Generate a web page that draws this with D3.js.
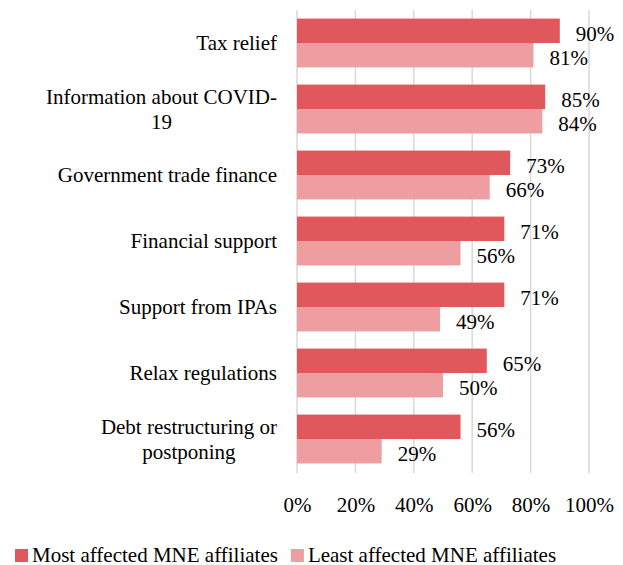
<!DOCTYPE html>
<html>
<head>
<meta charset="utf-8">
<script src="https://cdn.jsdelivr.net/npm/d3@7"></script>
<style>
  body { margin: 0; background: #fff; }
  svg text, svg tspan, svg g text { font-family: "Liberation Serif", "Times New Roman", Tinos, serif !important; }
</style>
</head>
<body>
<svg width="623" height="565" font-family="Liberation Serif" font-size="21"></svg>
<script>
var categories = ["Tax relief", "Information about COVID-19", "Government trade finance",
                  "Financial support", "Support from IPAs", "Relax regulations",
                  "Debt restructuring or postponing"];
var mostAffected = [90, 85, 73, 71, 71, 65, 56];
var leastAffected = [81, 84, 66, 56, 49, 50, 29];
var seriesNames = ["Most affected MNE affiliates", "Least affected MNE affiliates"];
var ticks = [0, 20, 40, 60, 80, 100];

var colors = ["#e0575c", "#ee9ea1"];

var svg = d3.select("svg"),
    width = +svg.attr("width"),
    height = +svg.attr("height");

// widths for centring wrapped labels and spacing the legend
var ctx = document.createElement("canvas").getContext("2d");
ctx.font = "21px 'Liberation Serif'";
function textWidth(s) {
    return ctx.measureText(s).width;
}

var x = d3.scaleLinear().domain([0, 100]).range([297, 589]);
var y = d3.scaleBand().domain(categories).range([10, 472]).paddingInner(0.26).paddingOuter(0.13);
var y1 = d3.scaleBand().domain([0, 1]).range([0, y.bandwidth()]);

// gridlines
svg.append("g")
    .selectAll("line")
    .data(ticks)
    .enter().append("line")
    .attr("x1", function (d) { return x(d); })
    .attr("x2", function (d) { return x(d); })
    .attr("y1", 10)
    .attr("y2", 473)
    .attr("stroke", "#d9d9d9")
    .attr("stroke-width", 1.5);

// axis labels
var axis = svg.append("g")
    .attr("transform", "translate(0,491)")
    .call(d3.axisBottom(x).tickValues(ticks).tickSize(0).tickPadding(0)
        .tickFormat(function (d) { return d + "%"; }));
axis.select(".domain").remove();
axis.attr("font-family", null).attr("font-size", null);
axis.selectAll("text")
    .attr("fill", "#000")
    .attr("dy", null)
    .attr("y", 21);

// bars
var rows = categories.map(function (c, i) {
    return { cat: c, vals: [mostAffected[i], leastAffected[i]] };
});

var groups = svg.append("g")
    .selectAll("g")
    .data(rows)
    .enter().append("g")
    .attr("transform", function (d) { return "translate(0," + y(d.cat) + ")"; });

groups.selectAll("rect")
    .data(function (d) { return d.vals; })
    .enter().append("rect")
    .attr("x", x(0))
    .attr("y", function (d, i) { return y1(i); })
    .attr("width", function (d) { return x(d) - x(0); })
    .attr("height", y1.bandwidth())
    .attr("fill", function (d, i) { return colors[i]; });

groups.selectAll("text.val")
    .data(function (d) { return d.vals; })
    .enter().append("text")
    .attr("class", "val")
    .attr("x", function (d) { return x(d) + 16; })
    .attr("y", function (d, i) { return y1(i) + y1.bandwidth() / 2 + 10; })
    .text(function (d) { return d + "%"; });

// category labels, wrapped at about 25 characters like the original
function wrap(s, maxChars) {
    var tokens = s.match(/[^\s-]+-?\s*/g);
    var lines = [], cur = "";
    tokens.forEach(function (t) {
        var test = cur + t;
        if (cur && test.trim().length > maxChars) {
            lines.push(cur.trim());
            cur = t;
        } else {
            cur = test;
        }
    });
    if (cur) lines.push(cur.trim());
    return lines;
}

var lineH = 25;
categories.forEach(function (c) {
    var lines = wrap(c, 25);
    var maxW = d3.max(lines, textWidth);
    var cx = 277 - maxW / 2;
    var cy = y(c) + y.bandwidth() / 2;
    var t = svg.append("text")
        .attr("text-anchor", "middle");
    lines.forEach(function (l, i) {
        t.append("tspan")
            .attr("x", cx)
            .attr("y", cy + 7 + (i - (lines.length - 1) / 2) * lineH)
            .text(l);
    });
});

// legend
var lx = 15;
seriesNames.forEach(function (name, i) {
    svg.append("rect")
        .attr("x", lx)
        .attr("y", 549)
        .attr("width", 13)
        .attr("height", 13)
        .attr("fill", colors[i]);
    svg.append("text")
        .attr("x", lx + 17)
        .attr("y", 562)
        .text(name);
    lx = lx + 17 + textWidth(name) + 13;
});
</script>
</body>
</html>
